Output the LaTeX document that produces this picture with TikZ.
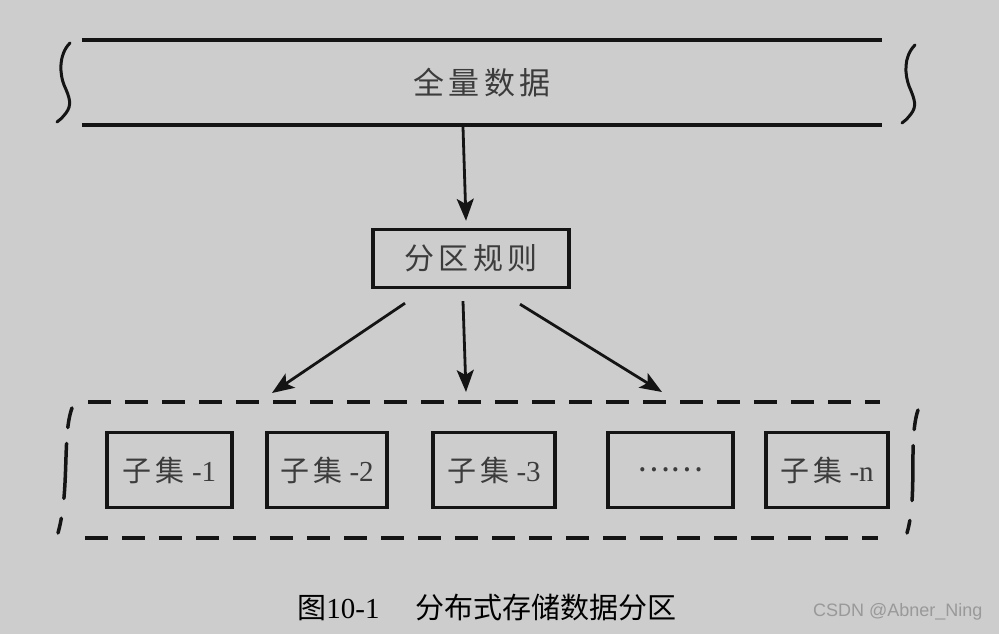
\documentclass[tikz,border=0pt]{standalone}
\usepackage{fontspec}
\setmainfont{Liberation Serif}
\newfontfamily\cjk{Noto Sans CJK SC}
\newfontfamily\hand[LetterSpace=14]{Noto Sans CJK SC}
\newfontfamily\wmfont{Liberation Sans}
\usetikzlibrary{arrows.meta,positioning}
\definecolor{bgcol}{RGB}{205,205,205}
\definecolor{inkcol}{RGB}{20,20,20}
\definecolor{handcol}{RGB}{60,60,60}

\begin{document}
\begin{tikzpicture}[x=1pt, y=-1pt,
	band/.style={inkcol, line width=4pt},
	brace/.style={inkcol, line width=3pt, line cap=round},
	box/.style={draw=inkcol, line width=3.4pt, inner sep=0pt, text=handcol,
		minimum width=123pt, minimum height=75pt, font=\fontsize{29}{31}\selectfont},
	arr/.style={-{Stealth[length=22pt,width=17pt,inset=5pt]}, inkcol, line width=2.8pt},
	dashline/.style={inkcol, line width=4.5pt, dash pattern=on 23pt off 14pt},
	dashside/.style={inkcol, line width=3.5pt, line cap=round, dash pattern=on 20pt off 16pt on 55pt off 20pt on 20pt}]

	% --- 1. 背景与边界 ---
	\useasboundingbox (0,0) rectangle (999,634);
	\fill[bgcol] (0,0) rectangle (999,634);

	% --- 2. 全量数据 ---
	\node[inner sep=0pt, minimum width=800pt, minimum height=85pt, text=handcol,
		font=\fontsize{31}{33}\selectfont] (full) at (482,82.5) {\hand 全量数据};
	\draw[band] (full.north west) -- (full.north east);
	\draw[band] (full.south west) -- (full.south east);
	% 两侧的波浪括号
	\draw[brace] (70,43) .. controls (58,55) and (60,75) .. (64,85)
		.. controls (70,98) and (72,105) .. (66,113) .. controls (62,118) and (60,120) .. (57,122);
	\draw[brace] (915,45) .. controls (903,57) and (905,75) .. (909,86)
		.. controls (915,100) and (917,106) .. (911,114) .. controls (907,119) and (905,121) .. (902,123);

	% --- 3. 分区规则 ---
	\node[box, minimum width=196pt, minimum height=58pt, font=\fontsize{30}{32}\selectfont]
		(rule) at (471,258.5) {\hand 分区规则};
	\draw[arr] ([xshift=-19pt,yshift=-2pt]full.south) -- ([xshift=-5pt,yshift=7pt]rule.north);

	% --- 4. 子集 ---
	\node[box, minimum width=125pt] (s1) at (169.5,470) {{\hand 子集} -1};
	\node[box, minimum width=120pt] (s2) at (327,470) {{\hand 子集} -2};
	\node[box, minimum width=122pt] (s3) at (494,470) {{\hand 子集} -3};
	\node[box, minimum width=125pt] (s4) at (670.5,470) {{\cjk\fontsize{31}{33}\selectfont\raisebox{-2pt}{……}}};
	\node[box, minimum width=122pt] (s5) at (827,470) {{\hand 子集} -n};

	% --- 5. 虚线外框 ---
	\coordinate (e1) at (272,393);
	\coordinate (e2) at (466,392);
	\coordinate (e3) at (662,392);
	\draw[dashline] (88,402) -- (880,402);
	\draw[dashline] (85,538) -- (878,538);
	\draw[dashside] (72,408) .. controls (62,435) and (70,490) .. (58,533);
	\draw[dashside] (918,410) .. controls (908,440) and (918,495) .. (907,533);

	% --- 6. 分区箭头 ---
	\draw[arr] ([xshift=-66pt,yshift=-14pt]rule.south) -- (e1);
	\draw[arr] ([xshift=-8pt,yshift=-12pt]rule.south) -- (e2);
	\draw[arr] ([xshift=49pt,yshift=-15pt]rule.south) -- (e3);

	% --- 7. 图题与水印 ---
	\node[font=\fontsize{29}{31}\selectfont] (cap) at (487,607)
		{{\cjk 图}10-1\hspace{36pt}{\cjk 分布式存储数据分区}};
	\node[anchor=east, text=black!40, font=\wmfont\fontsize{18}{20}\selectfont] (wm) at (986,612)
		{CSDN @Abner\_Ning};
\end{tikzpicture}
\end{document}
